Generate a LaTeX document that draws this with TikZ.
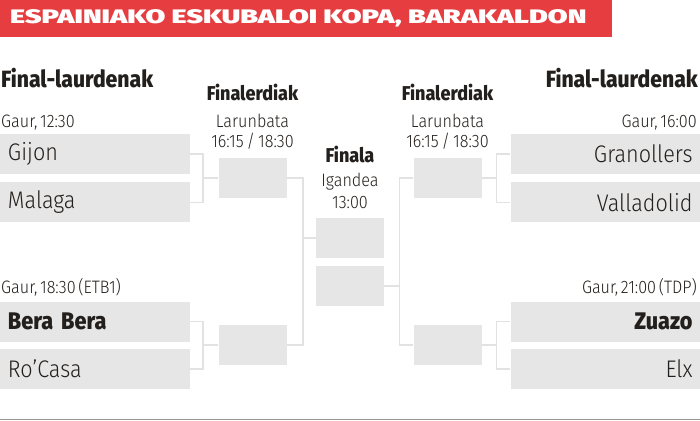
\documentclass[tikz,border=0pt]{standalone}
\usepackage{fontspec}
\setmainfont{Fira Sans}[UprightFont=* Light,BoldFont=* ExtraBold,FakeStretch=0.9,WordSpace=0.6]
\newfontfamily\blackfont{Fira Sans Black}
\usepackage{graphicx}
\usepackage{tikz}
\usetikzlibrary{positioning}
\definecolor{ink}{HTML}{231F1C}
\definecolor{banner}{HTML}{E63D40}
\definecolor{slot}{HTML}{E6E6E6}
\definecolor{link}{HTML}{E2E2E2}
\definecolor{rule}{HTML}{9A9791}
\tikzset{
  team/.style={fill=slot,minimum width=190pt,minimum height=40pt,inner xsep=8pt,text width=174pt,font=\fontsize{24}{26}\selectfont,text=ink},
  teamL/.style={team,align=left},
  teamR/.style={team,align=right},
  slotbox/.style={fill=slot,minimum width=68pt,minimum height=40pt,inner sep=0pt},
  bracket/.style={draw=link,line width=1.6pt},
  head/.style={font=\bfseries\fontsize{23.5}{26}\selectfont,text=ink,inner sep=0pt},
  subhead/.style={font=\bfseries\fontsize{20}{22}\selectfont,text=ink,inner sep=0pt},
  info/.style={font=\fontsize{18}{20}\selectfont,text=ink,inner sep=0pt}
}
\begin{document}
\begin{tikzpicture}[x=1pt,y=-1pt]
  \useasboundingbox (0,0) rectangle (700,420);
  \node[fill=banner,anchor=north west,minimum width=612pt,minimum height=37pt,inner sep=0pt] (banner) at (0,0) {};
  \node[anchor=west,text=white,inner sep=0pt] (title) at (10,18.5) {\blackfont\fontsize{19.5}{20}\selectfont\scalebox{1.47}[1]{ESPAINIAKO ESKUBALOI KOPA, BARAKALDON}};
  % column heads
  \node[head,anchor=base west] (qfL) at (1,87) {Final-laurdenak};
  \node[head,anchor=base east] (qfR) at (698,87) {Final-laurdenak};
  \node[subhead,anchor=base] (sfLhead) at (252.5,100) {Finalerdiak};
  \node[info,anchor=base] (sfLday) at (252.5,127) {Larunbata};
  \node[info,anchor=base] (sfLtime) at (252.5,147) {16:15\,/\,18:30};
  \node[subhead,anchor=base] (sfRhead) at (447.5,100) {Finalerdiak};
  \node[info,anchor=base] (sfRday) at (447.5,127) {Larunbata};
  \node[info,anchor=base] (sfRtime) at (447.5,147) {16:15\,/\,18:30};
  \node[subhead,anchor=base] (fhead) at (350,162) {Finala};
  \node[info,anchor=base] (fday) at (350,186) {Igandea};
  \node[info,anchor=base] (ftime) at (350,208) {13:00};
  % quarter-finals
  \node[info,anchor=base west] (tA) at (1,127) {Gaur, 12:30};
  \node[teamL] (gijon) at (95,154) {Gijon};
  \node[teamL,below=8pt of gijon] (malaga) {Malaga};
  \node[info,anchor=base west] (tB) at (1,293) {Gaur, 18:30 (ETB1)};
  \node[teamL] (bera) at (95,321.5) {\textbf{Bera Bera}};
  \node[teamL,below=7pt of bera] (rocasa) {Ro'Casa};
  \node[info,anchor=base east] (tC) at (697,127) {Gaur, 16:00};
  \node[teamR] (granollers) at (605.5,154) {Granollers};
  \node[teamR,below=8pt of granollers] (valladolid) {Valladolid};
  \node[info,anchor=base east] (tD) at (697,293) {Gaur, 21:00 (TDP)};
  \node[teamR] (zuazo) at (605.5,321.5) {\textbf{Zuazo}};
  \node[teamR,below=7pt of zuazo] (elx) {Elx};
  % semis and final
  \node[slotbox] (sfA) at (252.5,178) {};
  \node[slotbox] (sfB) at (252.5,345) {};
  \node[slotbox] (sfC) at (447.5,178) {};
  \node[slotbox] (sfD) at (447.5,345) {};
  \node[slotbox] (finA) at (350,238) {};
  \node[slotbox] (finB) at (350,286) {};
  % brackets
  \draw[bracket] (gijon.east) -- ++(13,0) |- (malaga.east);
  \draw[bracket] (sfA.west) -- ++(-16,0);
  \draw[bracket] (bera.east) -- ++(13,0) |- (rocasa.east);
  \draw[bracket] (sfB.west) -- ++(-16,0);
  \draw[bracket] (granollers.west) -- ++(-14,0) |- (valladolid.west);
  \draw[bracket] (sfC.east) -- ++(15,0);
  \draw[bracket] (zuazo.west) -- ++(-14,0) |- (elx.west);
  \draw[bracket] (sfD.east) -- ++(15,0);
  \draw[bracket] (sfA.east) -- ++(16,0) |- (sfB.east);
  \draw[bracket] (finA.west) -- ++(-14,0);
  \draw[bracket] (sfC.west) -- ++(-14,0) |- (sfD.west);
  \draw[bracket] (finB.east) -- ++(16,0);
  \draw[draw=rule,line width=1.5pt] (0,419.25) -- (700,419.25);
\end{tikzpicture}
\end{document}
